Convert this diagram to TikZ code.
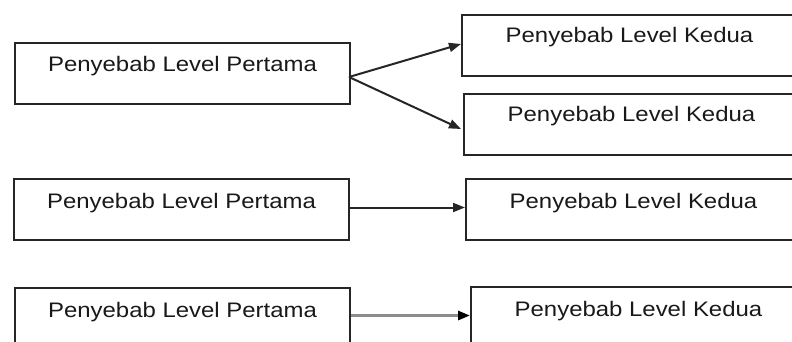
\documentclass[tikz,border=0pt]{standalone}
\usepackage{fontspec}
\setmainfont{Liberation Sans}
\usetikzlibrary{arrows.meta,calc}
\begin{document}
\begin{tikzpicture}[x=1pt,y=-1pt,
  box/.style={draw=black!85,line width=2pt,minimum width=335pt,minimum height=61pt,inner sep=0pt,anchor=north west},
  lbl/.style={anchor=base,font=\fontsize{21}{24}\selectfont,text=black!90,inner sep=0pt},
  conn/.style={draw=black!85,line width=2pt,-{Triangle[length=12pt,width=9pt]}},
  connb/.style={draw=black!45,line width=2.8pt,-{Triangle[length=12pt,width=9pt,fill=black,color=black]}}]
\useasboundingbox (0,0) rectangle (792,342);
\clip (0,0) rectangle (792,342);
\fill[white] (0,0) rectangle (792,342);
% boxes
\node[box] (a1) at (14,42) {};
\node[box] (b1) at (461,14) {};
\node[box] (b2) at (463,93) {};
\node[box] (a2) at (13,178) {};
\node[box] (b3) at (465,178) {};
\node[box] (a3) at (14,287) {};
\node[box] (b4) at (470,286) {};
% labels
\node[lbl] (ta1) at ($(a1.north)+(0,30)$) {\scalebox{1.14}[1]{Penyebab Level Pertama}};
\node[lbl] (tb1) at ($(b1.north)+(0,29)$) {\scalebox{1.14}[1]{Penyebab Level Kedua}};
\node[lbl] (tb2) at ($(b2.north)+(0,29)$) {\scalebox{1.14}[1]{Penyebab Level Kedua}};
\node[lbl] (ta2) at ($(a2.north)+(0,30)$) {\scalebox{1.14}[1]{Penyebab Level Pertama}};
\node[lbl] (tb3) at ($(b3.north)+(0,30)$) {\scalebox{1.14}[1]{Penyebab Level Kedua}};
\node[lbl] (ta3) at ($(a3.north)+(0,30)$) {\scalebox{1.14}[1]{Penyebab Level Pertama}};
\node[lbl] (tb4) at ($(b4.north)+(0,30)$) {\scalebox{1.14}[1]{Penyebab Level Kedua}};
% connectors
\coordinate (s1) at ($(a1.east)+(-2,3.5)$);
\draw[conn] (s1) -- ($(b1.west)+(0,-1.5)$);
\draw[conn] (s1) -- ($(b2.west)+(-2,4.5)$);
\draw[conn] ($(a2.east)+(0,-2)$) -- ($(b3.west)+(0,-2)$);
\draw[connb] ($(a3.east)+(0,-3)$) -- ($(b4.west)+(0,-2)$);
\end{tikzpicture}
\end{document}
